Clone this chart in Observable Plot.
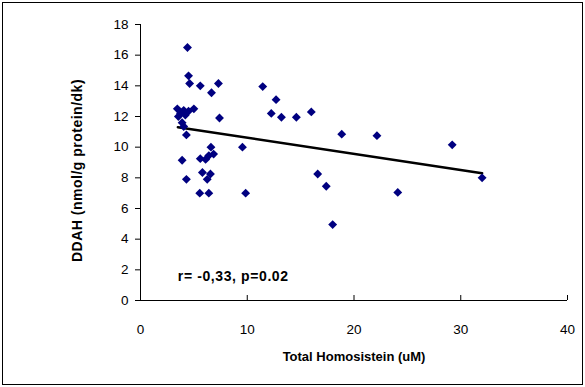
<!DOCTYPE html>
<html>
<head>
<meta charset="utf-8">
<script src="https://cdn.jsdelivr.net/npm/d3@7"></script>
<script src="https://cdn.jsdelivr.net/npm/@observablehq/plot@0.6"></script>
<style>
  html, body { margin: 0; padding: 0; background: #fff; }
  #chart svg { display: block; outline: 1.5px solid #000; outline-offset: -3px; }
  #chart .annot text { letter-spacing: 0.6px; }
  #chart .ylab text { letter-spacing: 0.5px; }
</style>
</head>
<body>
<div id="chart"></div>
<script>
// Total Homocysteine (uM)
const homocysteine = [4.4,4.5,4.6,5.6,7.3,6.65,3.45,3.75,3.55,4.05,4.2,4.5,5.0,3.9,4.05,4.3,7.4,6.6,6.85,6.4,5.6,6.1,9.55,3.9,5.8,6.55,6.25,4.3,5.55,6.4,9.85,11.45,12.7,12.25,13.2,14.6,16.0,18.85,22.15,16.6,17.4,18.0,29.2,24.1,32.0];
// DDAH (nmol/g protein/dk)
const ddah = [16.5,14.65,14.15,14.0,14.15,13.55,12.5,12.2,12.0,12.4,12.1,12.35,12.5,11.6,11.35,10.8,11.9,10.0,9.55,9.45,9.25,9.2,10.0,9.15,8.35,8.25,7.9,7.9,7.0,7.0,7.0,13.95,13.1,12.2,11.95,11.95,12.3,10.85,10.75,8.25,7.45,4.95,10.15,7.05,8.0];
// Trend line end points
const trendX = [3.5, 32.0];
const trendY = [11.3, 8.3];
const xTicks = [0, 10, 20, 30, 40];
const yTicks = [0, 2, 4, 6, 8, 10, 12, 14, 16, 18];
const annotation = ["r= -0,33, p=0.02"];
const annotationX = [3.5];
const annotationY = [1.55];

const points = homocysteine.map((x, i) => ({x, y: ddah[i]}));
const trend = trendX.map((x, i) => ({x, y: trendY[i]}));

const chart = Plot.plot({
  width: 585,
  height: 387,
  marginLeft: 140,
  marginRight: 18,
  marginTop: 24,
  marginBottom: 87,
  style: {fontFamily: "Liberation Sans, Arial, sans-serif", fontSize: "12px", color: "#000", background: "#fff"},
  x: {domain: [0, 40], ticks: xTicks},
  y: {domain: [0, 18], ticks: yTicks},
  marks: [
    Plot.ruleX([0], {stroke: "#000"}),
    Plot.ruleY([0], {stroke: "#000"}),
    Plot.axisY({ticks: yTicks, tickSize: 5, tickPadding: 7, label: null, fontSize: 13.5}),
    Plot.axisX({ticks: xTicks, tickSize: -5, tickPadding: 29, label: null, fontSize: 13.5}),
    Plot.text(["DDAH (nmol/g protein/dk)"], {frameAnchor: "left", dx: -63, dy: 8, rotate: -90, fontWeight: "bold", fontSize: 14, textAnchor: "middle", className: "ylab"}),
    Plot.text(["Total Homosistein (uM)"], {frameAnchor: "bottom", dy: 60, fontWeight: "bold", fontSize: 13}),
    Plot.line(trend, {x: "x", y: "y", stroke: "#000", strokeWidth: 2.5}),
    Plot.dot(points, {x: "x", y: "y", symbol: "diamond2", r: 4, fill: "#000080", stroke: "none"}),
    Plot.text(annotation, {x: annotationX, y: annotationY, textAnchor: "start", fontSize: 14, fontWeight: "bold", className: "annot"})
  ]
});
document.getElementById("chart").append(chart);
</script>
</body>
</html>
